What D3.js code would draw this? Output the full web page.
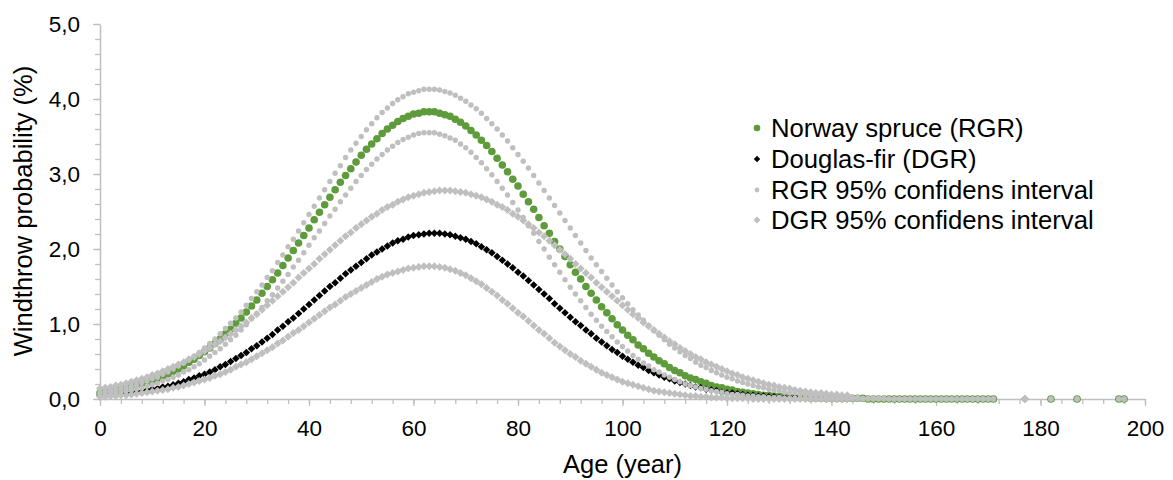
<!DOCTYPE html>
<html><head><meta charset="utf-8">
<script src="https://cdn.jsdelivr.net/npm/d3@7"></script>
<style>
body{margin:0;background:#fff}
svg{display:block}
text{font-family:"Liberation Sans",Arial,sans-serif;fill:#000}
</style>
</head><body>
<svg id="chart" width="1173" height="480"></svg>
<script>
// ---------- data ----------
const rgrAges = [
  0,1,2,3,4,5,6,7,8,9,10,11,12,13,14,15,16,17,18,19,20,21,22,23,24,25,26,27,28,29,
  30,31,32,33,34,35,36,37,38,39,40,41,42,43,44,45,46,47,48,49,50,51,52,53,54,55,56,57,58,59,
  60,61,62,63,64,65,66,67,68,69,70,71,72,73,74,75,76,77,78,79,80,81,82,83,84,85,86,87,88,89,
  90,91,92,93,94,95,96,97,98,99,100,101,102,103,104,105,106,107,108,109,110,111,112,113,114,115,116,117,118,119,
  120,121,122,123,124,125,126,127,128,129,130,131,132,133,134,135,136,137,138,139,140,141,142,143,144,145,146,147,148,149,
  150,151,152,153,154,155,156,157,158,159,160,161,162,163,164,165,166,167,168,169,170,171,
  182,187,195,196];

const rgrValues = [
  0.08,0.09,0.10,0.11,0.13,0.14,0.16,0.18,0.20,0.22,
  0.25,0.27,0.30,0.33,0.37,0.40,0.44,0.49,0.53,0.58,
  0.63,0.68,0.74,0.80,0.87,0.93,1.01,1.08,1.16,1.24,
  1.32,1.41,1.50,1.59,1.68,1.78,1.88,1.98,2.08,2.18,
  2.28,2.39,2.49,2.59,2.69,2.79,2.89,2.98,3.07,3.16,
  3.25,3.33,3.40,3.47,3.54,3.60,3.65,3.70,3.74,3.77,
  3.80,3.81,3.83,3.83,3.83,3.81,3.79,3.77,3.73,3.69,
  3.64,3.58,3.52,3.45,3.38,3.30,3.21,3.12,3.03,2.93,
  2.84,2.73,2.63,2.53,2.42,2.31,2.21,2.10,2.00,1.90,
  1.79,1.69,1.60,1.50,1.41,1.32,1.23,1.15,1.07,0.99,
  0.92,0.85,0.79,0.72,0.67,0.61,0.56,0.51,0.47,0.42,
  0.38,0.35,0.31,0.28,0.26,0.23,0.21,0.18,0.16,0.15,
  0.13,0.12,0.10,0.09,0.08,0.07,0.06,0.05,0.05,0.04,
  0.04,0.03,0.03,0.02,0.02,0.02,0.01,0.01,0.01,0.01,
  0.01,0.01,0.01,0.01,0.01,0.01,0.01,0,0,0,
  0,0,0,0,0,0,0,0,0,0,
  0,0,0,0,0,0,0,0,0,0,
  0,0,
  0,0,0,0];

const rgrUpper = [
  0.09,0.10,0.11,0.12,0.14,0.15,0.17,0.19,0.22,0.24,
  0.27,0.29,0.33,0.36,0.40,0.44,0.48,0.52,0.57,0.62,
  0.68,0.74,0.80,0.87,0.94,1.01,1.08,1.16,1.25,1.34,
  1.43,1.52,1.62,1.71,1.82,1.92,2.03,2.13,2.24,2.35,
  2.46,2.57,2.68,2.79,2.90,3.01,3.11,3.22,3.32,3.41,
  3.50,3.59,3.67,3.75,3.82,3.88,3.94,3.99,4.03,4.07,
  4.09,4.11,4.13,4.13,4.13,4.12,4.10,4.08,4.05,4.01,
  3.97,3.92,3.87,3.81,3.74,3.67,3.60,3.52,3.44,3.35,
  3.26,3.17,3.08,2.98,2.88,2.78,2.68,2.58,2.48,2.38,
  2.28,2.18,2.08,1.98,1.88,1.79,1.70,1.61,1.52,1.43,
  1.35,1.27,1.19,1.12,1.05,0.98,0.91,0.85,0.79,0.73,
  0.68,0.63,0.58,0.54,0.49,0.45,0.42,0.38,0.35,0.32,
  0.29,0.27,0.24,0.22,0.20,0.18,0.16,0.15,0.13,0.12,
  0.11,0.09,0.08,0.08,0.07,0.06,0.05,0.05,0.04,0.04,
  0.03,0.03,0.03,0.02,0.02,0.02,0.01,0.01,0.01,0.01,
  0.01,0,0,0,0,0,0,0,0,0,
  0,0,0,0,0,0,0,0,0,0,
  0,0,
  0,0,0,0];

const rgrLower = [
  0.06,0.06,0.07,0.08,0.09,0.11,0.12,0.14,0.15,0.17,
  0.19,0.21,0.24,0.26,0.29,0.32,0.36,0.39,0.43,0.47,
  0.52,0.57,0.62,0.67,0.73,0.79,0.85,0.92,0.99,1.07,
  1.14,1.22,1.31,1.39,1.48,1.57,1.66,1.76,1.85,1.95,
  2.05,2.15,2.24,2.34,2.44,2.53,2.63,2.72,2.81,2.90,
  2.98,3.06,3.13,3.20,3.26,3.32,3.37,3.42,3.46,3.49,
  3.52,3.54,3.55,3.55,3.55,3.53,3.51,3.48,3.45,3.40,
  3.35,3.29,3.22,3.15,3.07,2.99,2.90,2.81,2.72,2.62,
  2.52,2.42,2.31,2.21,2.10,2.00,1.89,1.79,1.69,1.59,
  1.49,1.40,1.31,1.22,1.13,1.05,0.97,0.90,0.83,0.76,
  0.70,0.64,0.58,0.53,0.48,0.44,0.39,0.36,0.32,0.29,
  0.26,0.23,0.20,0.18,0.16,0.14,0.13,0.11,0.10,0.09,
  0.07,0.06,0.06,0.05,0.04,0.04,0.03,0.03,0.02,0.02,
  0.02,0.01,0.01,0.01,0.01,0.01,0,0,0,0,
  0,0,0,0,0,0,0,0,0,0,
  0,0,0,0,0,0,0,0,0,0,
  0,0,0,0,0,0,0,0,0,0,
  0,0,
  0,0,0,0];

const dgrAges = [
  0,1,2,3,4,5,6,7,8,9,10,11,12,13,14,15,16,17,18,19,20,21,22,23,24,25,26,27,28,29,
  30,31,32,33,34,35,36,37,38,39,40,41,42,43,44,45,46,47,48,49,50,51,52,53,54,55,56,57,58,59,
  60,61,62,63,64,65,66,67,68,69,70,71,72,73,74,75,76,77,78,79,80,81,82,83,84,85,86,87,88,89,
  90,91,92,93,94,95,96,97,98,99,100,101,102,103,104,105,106,107,108,109,110,111,112,113,114,115,116,117,118,119,
  120,121,122,123,124,125,126,127,128,129,130,131,132,133,134,135,136,137,138,139,140,141,142,143,
  177];

const dgrValues = [
  0.04,0.05,0.05,0.06,0.07,0.07,0.08,0.09,0.10,0.12,
  0.13,0.14,0.16,0.17,0.19,0.21,0.23,0.26,0.28,0.31,
  0.33,0.36,0.39,0.43,0.46,0.50,0.54,0.58,0.62,0.67,
  0.71,0.76,0.81,0.86,0.92,0.97,1.03,1.08,1.14,1.20,
  1.26,1.32,1.38,1.44,1.50,1.55,1.61,1.67,1.72,1.77,
  1.82,1.87,1.92,1.96,2.00,2.04,2.08,2.11,2.13,2.16,
  2.18,2.19,2.20,2.21,2.21,2.21,2.20,2.19,2.17,2.15,
  2.13,2.10,2.07,2.03,1.99,1.95,1.90,1.85,1.80,1.75,
  1.69,1.64,1.58,1.52,1.46,1.40,1.34,1.27,1.21,1.15,
  1.09,1.03,0.98,0.92,0.87,0.81,0.76,0.71,0.66,0.62,
  0.57,0.53,0.49,0.45,0.42,0.38,0.35,0.32,0.29,0.27,
  0.24,0.22,0.20,0.18,0.16,0.15,0.13,0.12,0.11,0.09,
  0.08,0.08,0.07,0.06,0.05,0.05,0.04,0.04,0.03,0.03,
  0.02,0.02,0.02,0.02,0.01,0.01,0.01,0.01,0.01,0,
  0,0,0,0,
  0];

const dgrUpper = [
  0.14,0.15,0.16,0.18,0.19,0.21,0.23,0.25,0.27,0.29,
  0.32,0.34,0.37,0.40,0.43,0.46,0.49,0.53,0.56,0.60,
  0.64,0.68,0.73,0.77,0.82,0.87,0.92,0.97,1.02,1.08,
  1.13,1.19,1.25,1.31,1.37,1.43,1.49,1.55,1.62,1.68,
  1.74,1.80,1.87,1.93,1.99,2.05,2.11,2.17,2.22,2.28,
  2.33,2.38,2.43,2.47,2.52,2.56,2.59,2.63,2.66,2.69,
  2.71,2.73,2.75,2.76,2.77,2.78,2.78,2.78,2.77,2.76,
  2.75,2.73,2.71,2.69,2.66,2.63,2.59,2.56,2.52,2.47,
  2.43,2.38,2.33,2.28,2.22,2.17,2.11,2.05,1.99,1.93,
  1.87,1.80,1.74,1.68,1.62,1.55,1.49,1.43,1.37,1.31,
  1.25,1.19,1.13,1.08,1.02,0.97,0.92,0.87,0.82,0.77,
  0.73,0.68,0.64,0.60,0.56,0.53,0.49,0.46,0.43,0.40,
  0.37,0.34,0.32,0.29,0.27,0.25,0.23,0.21,0.19,0.18,
  0.16,0.15,0.14,0.12,0.11,0.10,0.09,0.08,0.08,0.07,
  0.06,0.06,0.05,0.05,
  0];

const dgrLower = [
  0.03,0.03,0.04,0.04,0.05,0.05,0.06,0.07,0.08,0.09,
  0.10,0.11,0.12,0.13,0.15,0.16,0.18,0.20,0.22,0.24,
  0.26,0.28,0.31,0.33,0.36,0.39,0.43,0.46,0.49,0.53,
  0.57,0.61,0.65,0.69,0.74,0.78,0.83,0.88,0.92,0.97,
  1.02,1.07,1.12,1.17,1.22,1.26,1.31,1.36,1.40,1.44,
  1.48,1.52,1.56,1.60,1.63,1.66,1.68,1.70,1.72,1.74,
  1.75,1.76,1.77,1.77,1.77,1.76,1.75,1.73,1.71,1.68,
  1.65,1.61,1.57,1.53,1.48,1.43,1.38,1.32,1.27,1.21,
  1.15,1.10,1.04,0.98,0.92,0.87,0.81,0.75,0.70,0.65,
  0.60,0.56,0.51,0.47,0.43,0.39,0.35,0.32,0.29,0.26,
  0.23,0.21,0.19,0.17,0.15,0.13,0.11,0.10,0.09,0.08,
  0.07,0.06,0.05,0.04,0.04,0.03,0.03,0.02,0.02,0.02,
  0.01,0.01,0.01,0.01,0.01,0,0,0,0,0,
  0,0,0,0,0,0,0,0,0,0,
  0,0,0,0,
  0];

const xTicks = [0,20,40,60,80,100,120,140,160,180,200];
const yTicks = [0,1,2,3,4,5];
const seriesNames = ["Norway spruce (RGR)","Douglas-fir (DGR)","RGR 95% confidens interval","DGR 95% confidens interval"];
const xTitle = "Age (year)";
const yTitle = "Windthrow probability (%)";

// ---------- drawing ----------
const GREEN = "#5E9B3A", GRAY = "#BFBFBF", AXIS = "#BFBFBF";
const svg = d3.select("#chart");
svg.append("rect").attr("width",1173).attr("height",480).attr("fill","#fff");

const x = d3.scaleLinear().domain([0,200]).range([100,1145]);
const y = d3.scaleLinear().domain([0,5]).range([399,24]);

// minor ticks
const xMinor = d3.range(0,201,4);
const yMinor = d3.range(0,5.01,0.2);
svg.append("g").attr("transform","translate(0,399)")
  .call(d3.axisBottom(x).tickValues(xMinor).tickSize(5).tickSizeOuter(0).tickFormat(""))
  .call(g=>{g.select(".domain").remove();g.selectAll("line").attr("stroke",AXIS).attr("stroke-width",1.3);});
svg.append("g").attr("transform","translate(100,0)")
  .call(d3.axisLeft(y).tickValues(yMinor).tickSize(5).tickSizeOuter(0).tickFormat(""))
  .call(g=>{g.select(".domain").remove();g.selectAll("line").attr("stroke",AXIS).attr("stroke-width",1.3);});

const fmt = d => d3.format(".1f")(d).replace(".", ",");
const fs = 22.5;
svg.append("g").attr("transform","translate(0,399)")
  .call(d3.axisBottom(x).tickValues(xTicks).tickSize(7).tickSizeOuter(0).tickPadding(14))
  .call(g=>{
    g.select(".domain").attr("stroke",AXIS).attr("stroke-width",1.5);
    g.selectAll("line").attr("stroke",AXIS).attr("stroke-width",1.3);
    g.selectAll("text").attr("font-size",fs).attr("font-family","Liberation Sans, Arial, sans-serif").attr("fill","#000");
  });
svg.append("g").attr("transform","translate(100,0)")
  .call(d3.axisLeft(y).tickValues(yTicks).tickSize(7).tickSizeOuter(0).tickPadding(13).tickFormat(fmt))
  .call(g=>{
    g.select(".domain").attr("stroke",AXIS).attr("stroke-width",1.5);
    g.selectAll("line").attr("stroke",AXIS).attr("stroke-width",1.3);
    g.selectAll("text").attr("font-size",fs).attr("font-family","Liberation Sans, Arial, sans-serif").attr("fill","#000");
  });

// axis titles
svg.append("text").attr("x",622.5).attr("y",473).attr("text-anchor","middle")
  .attr("font-size",25.5).text(xTitle);
svg.append("text").attr("transform","translate(32,211) rotate(-90)").attr("text-anchor","middle")
  .attr("font-size",25.5).text(yTitle);

// markers
const diamond = (s) => { const h = s/2; return `M0,${-h}L${h},0L0,${h}L${-h},0Z`; };
function circles(ages, vals, r, fill, stroke) {
  svg.append("g").selectAll("circle").data(ages.map((a,i)=>[a,vals[i]])).join("circle")
    .attr("cx",d=>x(d[0])).attr("cy",d=>y(d[1])).attr("r",r)
    .attr("fill",fill).attr("stroke",stroke||"none");
}
function diamonds(ages, vals, s, fill) {
  svg.append("g").selectAll("path").data(ages.map((a,i)=>[a,vals[i]])).join("path")
    .attr("transform",d=>`translate(${x(d[0])},${y(d[1])})`).attr("d",diamond(s)).attr("fill",fill);
}
circles(rgrAges, rgrValues, 3.8, GREEN);
diamonds(dgrAges, dgrValues, 7.5, "#000");
circles(rgrAges, rgrUpper, 2.7, GRAY);
circles(rgrAges, rgrLower, 2.7, GRAY);
diamonds(dgrAges, dgrUpper, 8, GRAY);
diamonds(dgrAges, dgrLower, 8, GRAY);

// legend
const legX = 757, legTX = 771, legY = [128,159,190,220];
const lg = svg.append("g");
lg.append("circle").attr("cx",legX).attr("cy",legY[0]).attr("r",3.3).attr("fill",GREEN);
lg.append("path").attr("transform",`translate(${legX},${legY[1]})`).attr("d",diamond(6.5)).attr("fill","#000");
lg.append("circle").attr("cx",legX).attr("cy",legY[2]).attr("r",2.4).attr("fill",GRAY);
lg.append("path").attr("transform",`translate(${legX},${legY[3]})`).attr("d",diamond(7)).attr("fill",GRAY);
seriesNames.forEach((n,i)=>{
  lg.append("text").attr("x",legTX).attr("y",legY[i]).attr("dy","0.35em").attr("font-size",25.7).text(n);
});
</script>
</body></html>
